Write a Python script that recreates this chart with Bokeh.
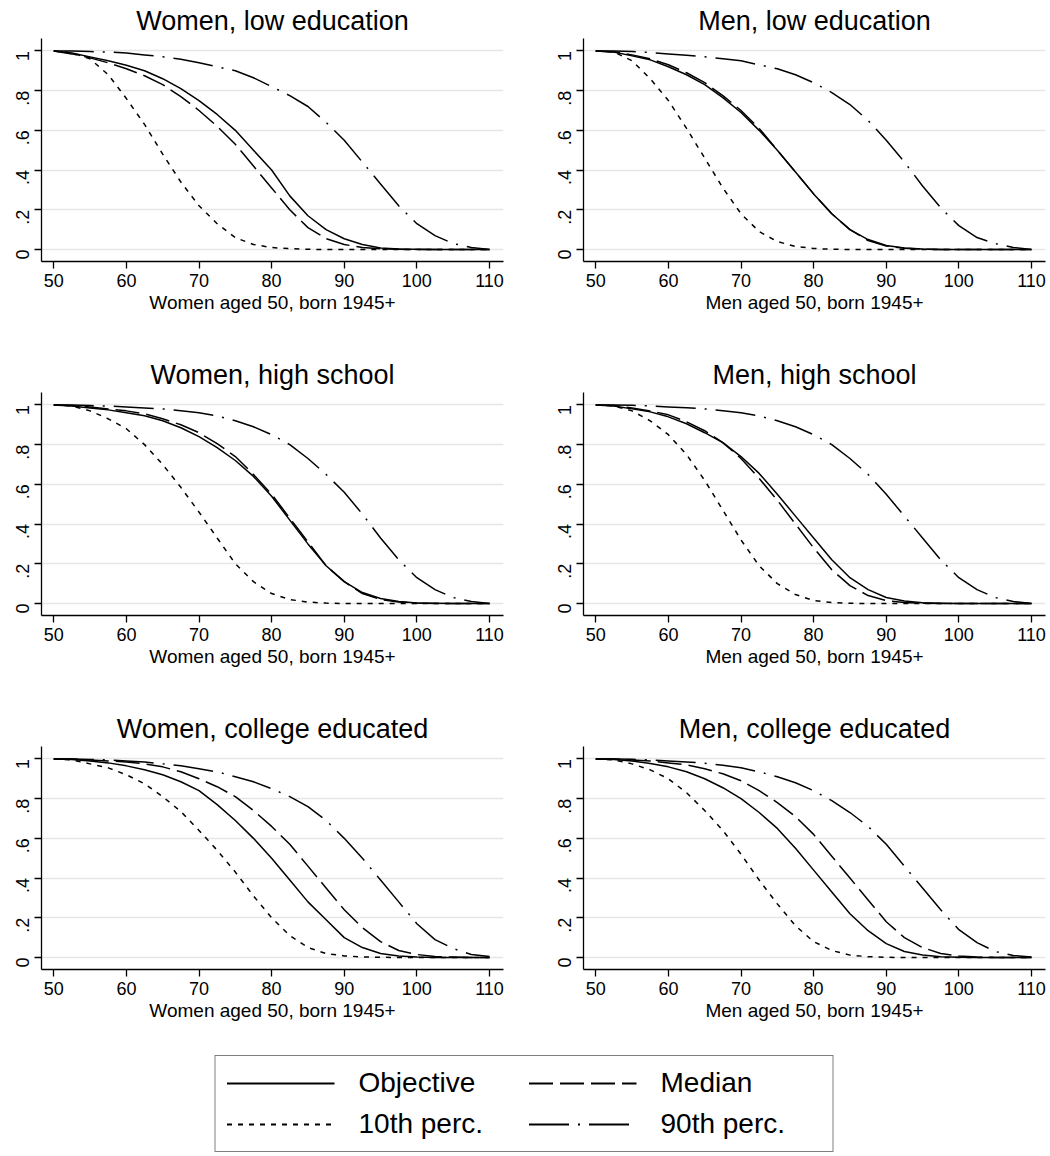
import math
from bokeh.plotting import figure
from bokeh.layouts import column, row
from bokeh.models import FixedTicker, Range1d, Legend, LegendItem
from bokeh.embed import file_html
from bokeh.resources import INLINE

FONT = "Liberation Sans"

ages = [50, 52.5, 55, 57.5, 60, 62.5, 65, 67.5, 70, 72.5, 75, 77.5, 80,
        82.5, 85, 87.5, 90, 92.5, 95, 97.5, 100, 102.5, 105, 107.5, 110]
x_ticks = [50, 60, 70, 80, 90, 100, 110]
y_ticks = [0, 0.2, 0.4, 0.6, 0.8, 1]
y_tick_labels = {0: "0", 0.2: ".2", 0.4: ".4", 0.6: ".6", 0.8: ".8", 1: "1"}

titles = ["Women, low education", "Men, low education",
          "Women, high school", "Men, high school",
          "Women, college educated", "Men, college educated"]
xlabels = ["Women aged 50, born 1945+", "Men aged 50, born 1945+"] * 3
series_names = ["Objective", "Median", "10th perc.", "90th perc."]

# Women, low education
w_low_obj = [1, 0.99, 0.97, 0.95, 0.928, 0.90, 0.86, 0.81, 0.75, 0.68, 0.60, 0.50, 0.40,
             0.27, 0.17, 0.10, 0.054, 0.025, 0.008, 0.003, 0.001, 0, 0, 0, 0]
w_low_med = [1, 0.985, 0.965, 0.94, 0.91, 0.875, 0.83, 0.77, 0.70, 0.62, 0.53, 0.42, 0.31,
             0.20, 0.11, 0.055, 0.025, 0.01, 0.003, 0.001, 0, 0, 0, 0, 0]
w_low_p10 = [1, 0.99, 0.96, 0.88, 0.76, 0.63, 0.48, 0.34, 0.22, 0.13, 0.06, 0.025, 0.01,
             0.004, 0.001, 0, 0, 0, 0, 0, 0, 0, 0, 0, 0]
w_low_p90 = [1, 0.999, 0.997, 0.994, 0.99, 0.98, 0.97, 0.958, 0.94, 0.92, 0.90, 0.865, 0.82,
             0.775, 0.72, 0.64, 0.55, 0.44, 0.33, 0.22, 0.13, 0.07, 0.03, 0.01, 0]
# Men, low education
m_low_obj = [1, 0.995, 0.975, 0.955, 0.92, 0.88, 0.83, 0.765, 0.69, 0.60, 0.50, 0.39, 0.28,
             0.18, 0.10, 0.05, 0.02, 0.007, 0.002, 0.0005, 0, 0, 0, 0, 0]
m_low_med = [1, 0.995, 0.98, 0.96, 0.93, 0.89, 0.84, 0.775, 0.70, 0.61, 0.50, 0.39, 0.28,
             0.18, 0.10, 0.045, 0.018, 0.006, 0.002, 0, 0, 0, 0, 0, 0]
m_low_p10 = [1, 0.995, 0.95, 0.86, 0.75, 0.61, 0.46, 0.31, 0.18, 0.09, 0.04, 0.015, 0.005,
             0.001, 0, 0, 0, 0, 0, 0, 0, 0, 0, 0, 0]
m_low_p90 = [1, 0.999, 0.997, 0.992, 0.985, 0.978, 0.97, 0.96, 0.95, 0.93, 0.91, 0.88, 0.84,
             0.79, 0.73, 0.65, 0.55, 0.44, 0.32, 0.21, 0.12, 0.06, 0.03, 0.01, 0]
# Women, high school
w_hs_obj = [1, 0.995, 0.985, 0.975, 0.96, 0.945, 0.92, 0.885, 0.84, 0.785, 0.72, 0.64, 0.54,
            0.42, 0.30, 0.19, 0.11, 0.055, 0.025, 0.01, 0.003, 0.001, 0, 0, 0]
w_hs_med = [1, 0.997, 0.99, 0.98, 0.97, 0.955, 0.93, 0.90, 0.86, 0.805, 0.74, 0.65, 0.55,
            0.43, 0.31, 0.19, 0.11, 0.05, 0.02, 0.007, 0.002, 0, 0, 0, 0]
w_hs_p10 = [1, 0.995, 0.97, 0.93, 0.88, 0.80, 0.70, 0.585, 0.46, 0.33, 0.20, 0.11, 0.05,
            0.02, 0.007, 0.002, 0, 0, 0, 0, 0, 0, 0, 0, 0]
w_hs_p90 = [1, 0.999, 0.997, 0.994, 0.99, 0.985, 0.98, 0.97, 0.96, 0.945, 0.92, 0.89, 0.85,
            0.80, 0.73, 0.65, 0.56, 0.45, 0.33, 0.22, 0.13, 0.07, 0.03, 0.01, 0]
# Men, high school
m_hs_obj = [1, 0.995, 0.98, 0.965, 0.94, 0.905, 0.86, 0.81, 0.74, 0.655, 0.55, 0.44, 0.33,
            0.22, 0.13, 0.07, 0.03, 0.012, 0.004, 0.001, 0, 0, 0, 0, 0]
m_hs_med = [1, 0.997, 0.985, 0.97, 0.95, 0.915, 0.87, 0.81, 0.73, 0.63, 0.52, 0.40, 0.28,
            0.17, 0.09, 0.04, 0.015, 0.005, 0.001, 0, 0, 0, 0, 0, 0]
m_hs_p10 = [1, 0.995, 0.97, 0.92, 0.85, 0.75, 0.62, 0.47, 0.32, 0.19, 0.10, 0.045, 0.015,
            0.005, 0.001, 0, 0, 0, 0, 0, 0, 0, 0, 0, 0]
m_hs_p90 = [1, 0.999, 0.998, 0.995, 0.99, 0.986, 0.98, 0.97, 0.96, 0.945, 0.92, 0.89, 0.85,
            0.80, 0.73, 0.65, 0.55, 0.44, 0.33, 0.22, 0.13, 0.07, 0.03, 0.01, 0]
# Women, college educated
w_col_obj = [1, 0.997, 0.99, 0.98, 0.965, 0.945, 0.92, 0.885, 0.84, 0.77, 0.69, 0.60, 0.50,
             0.39, 0.28, 0.19, 0.10, 0.05, 0.02, 0.007, 0.002, 0, 0, 0, 0]
w_col_med = [1, 0.999, 0.995, 0.99, 0.985, 0.975, 0.96, 0.935, 0.90, 0.86, 0.81, 0.74, 0.66,
             0.57, 0.46, 0.35, 0.24, 0.15, 0.08, 0.035, 0.015, 0.005, 0.002, 0, 0]
w_col_p10 = [1, 0.995, 0.975, 0.955, 0.92, 0.875, 0.81, 0.735, 0.64, 0.54, 0.43, 0.31, 0.20,
             0.11, 0.05, 0.02, 0.008, 0.003, 0.001, 0, 0, 0, 0, 0, 0]
w_col_p90 = [1, 1, 0.997, 0.995, 0.99, 0.984, 0.975, 0.965, 0.95, 0.935, 0.91, 0.885, 0.85,
             0.81, 0.76, 0.69, 0.60, 0.50, 0.39, 0.28, 0.17, 0.09, 0.045, 0.015, 0.005]
# Men, college educated
m_col_obj = [1, 0.997, 0.99, 0.977, 0.96, 0.935, 0.90, 0.855, 0.80, 0.73, 0.65, 0.55, 0.44,
             0.33, 0.22, 0.135, 0.07, 0.03, 0.012, 0.004, 0.001, 0, 0, 0, 0]
m_col_med = [1, 0.999, 0.995, 0.99, 0.98, 0.97, 0.95, 0.925, 0.89, 0.84, 0.78, 0.71, 0.62,
             0.51, 0.40, 0.29, 0.18, 0.10, 0.05, 0.02, 0.008, 0.002, 0, 0, 0]
m_col_p10 = [1, 0.995, 0.975, 0.945, 0.90, 0.83, 0.74, 0.64, 0.52, 0.39, 0.27, 0.16, 0.08,
             0.035, 0.012, 0.004, 0.001, 0, 0, 0, 0, 0, 0, 0, 0]
m_col_p90 = [1, 1, 0.998, 0.995, 0.99, 0.985, 0.978, 0.968, 0.955, 0.935, 0.91, 0.88, 0.84,
             0.79, 0.73, 0.66, 0.57, 0.46, 0.35, 0.24, 0.14, 0.075, 0.03, 0.01, 0.003]

panel_data = [
    (w_low_obj, w_low_med, w_low_p10, w_low_p90),
    (m_low_obj, m_low_med, m_low_p10, m_low_p90),
    (w_hs_obj, w_hs_med, w_hs_p10, w_hs_p90),
    (m_hs_obj, m_hs_med, m_hs_p10, m_hs_p90),
    (w_col_obj, w_col_med, w_col_p10, w_col_p90),
    (m_col_obj, m_col_med, m_col_p10, m_col_p90),
]

styles = [
    dict(line_dash="solid", line_width=1.5),
    dict(line_dash="24 7", line_width=1.5),
    dict(line_dash="5 6", line_width=1.5),
    dict(line_dash="40 9 2 9", line_width=1.5),
]


def make_panel(idx, left_col, last_row):
    p = figure(frame_width=462, frame_height=223,
               x_range=Range1d(48.31, 111.93), y_range=Range1d(-0.0605, 1.0625),
               output_backend="svg", toolbar_location=None,
               min_border_left=41 if left_col else 32,
               min_border_right=45 if left_col else 6,
               min_border_top=38,
               min_border_bottom=55 if last_row else 93)
    p.title.text = titles[idx]
    p.title.align = "center"
    p.title.text_font = FONT
    p.title.text_font_size = "27px"
    p.title.text_font_style = "normal"
    p.title.text_color = "black"
    p.title.standoff = 5
    p.outline_line_color = None
    p.xgrid.visible = False
    p.ygrid.ticker = FixedTicker(ticks=y_ticks)
    p.ygrid.grid_line_color = "#e6e6e6"
    p.ygrid.grid_line_width = 1.5

    p.xaxis.ticker = FixedTicker(ticks=x_ticks)
    p.xaxis.axis_label = xlabels[idx]
    p.yaxis.ticker = FixedTicker(ticks=y_ticks)
    p.yaxis.major_label_overrides = y_tick_labels
    p.yaxis.major_label_orientation = math.pi / 2
    for ax in (p.xaxis[0], p.yaxis[0]):
        ax.axis_line_width = 1.3
        ax.axis_line_color = "black"
        ax.major_tick_line_width = 1.3
        ax.major_tick_line_color = "black"
        ax.major_tick_out = 7
        ax.major_tick_in = 0
        ax.minor_tick_out = 0
        ax.minor_tick_in = 0
        ax.major_label_text_font = FONT
        ax.major_label_text_font_size = "18px"
        ax.major_label_text_color = "black"
        ax.major_label_standoff = 5
        ax.axis_label_text_font = FONT
        ax.axis_label_text_font_size = "19px"
        ax.axis_label_text_font_style = "normal"
        ax.axis_label_text_color = "black"
        ax.axis_label_standoff = 2
    p.yaxis.major_label_standoff = 12

    for ys, st in zip(panel_data[idx], styles):
        p.line(ages, ys, line_color="black", line_join="round", **st)
    return p


panels = [make_panel(i, i % 2 == 0, i >= 4) for i in range(6)]

# legend figure (the legend's sample lines reuse a panel's series, placed
# outside this figure's visible range so only the legend shows)
lf = figure(width=1048, height=132, x_range=Range1d(0, 1), y_range=Range1d(0, 1),
            output_backend="svg", toolbar_location=None,
            min_border_left=0, min_border_right=0, min_border_top=0, min_border_bottom=0)
lf.axis.visible = False
lf.grid.visible = False
lf.outline_line_color = None
renderers = {}
for name, ys, st in zip(series_names, panel_data[0], styles):
    st2 = dict(st)
    st2["line_width"] = 2
    renderers[name] = lf.line(ages, ys, line_color="black", **st2)
order = ["Objective", "10th perc.", "Median", "90th perc."]
items = [LegendItem(label=n, renderers=[renderers[n]]) for n in order]
legend = Legend(items=items, ncols=2, location="top_center", margin=31,
                glyph_width=108, glyph_height=30, label_standoff=24,
                label_width=161, spacing=9, padding=11,
                label_text_font=FONT, label_text_font_size="28px",
                label_text_color="black",
                border_line_color="black", border_line_width=1.5,
                background_fill_color="white", background_fill_alpha=1)
lf.add_layout(legend)

layout = column(row(panels[0], panels[1]), row(panels[2], panels[3]),
                row(panels[4], panels[5]), lf, spacing=0)

open("out.html", "w").write(file_html(layout, INLINE))
